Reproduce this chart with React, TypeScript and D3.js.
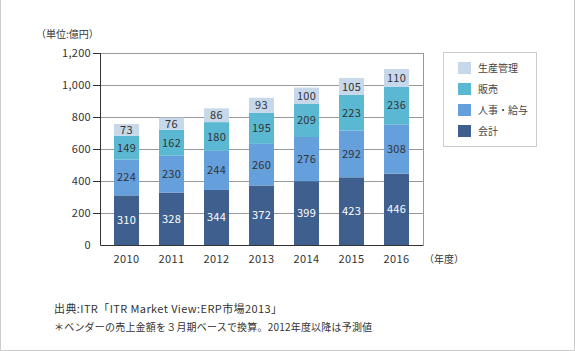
import React, { useEffect, useRef } from 'react';
import * as d3 from 'd3';

// data
const years = ['2010', '2011', '2012', '2013', '2014', '2015', '2016'];
const kaikei = [310, 328, 344, 372, 399, 423, 446];
const jinji = [224, 230, 244, 260, 276, 292, 308];
const hanbai = [149, 162, 180, 195, 209, 223, 236];
const seisan = [73, 76, 86, 93, 100, 105, 110];
const seriesNames = ['会計', '人事・給与', '販売', '生産管理'];
const seriesColors = ['#3f5f8e', '#659fdc', '#5bb8d2', '#c7d8ea'];
const labelColors = ['#ffffff', '#333333', '#333333', '#333333'];
const yTicks = [0, 200, 400, 600, 800, 1000, 1200];

const W = 575;
const H = 351;
const FONT = '"Noto Sans CJK JP", "Noto Sans", sans-serif';

const App = () => {
  const anchor = useRef<SVGSVGElement>(null);

  useEffect(() => {
    const svg = d3.select(anchor.current);
    svg.selectAll('*').remove();

    // outer frame (left, right, bottom)
    svg.append('path')
      .attr('d', `M0.5,0 V${H - 0.5} H${W - 0.5} V0`)
      .attr('fill', 'none')
      .attr('stroke', '#cccccc');

    const x = d3.scaleBand().domain(years).range([100, 423]).paddingInner(0.444).paddingOuter(0.311);
    const y = d3.scaleLinear().domain([0, 1200]).range([245, 53]);

    // gridlines
    svg.append('g').selectAll('line').data(yTicks.filter(d => d > 0)).enter().append('line')
      .attr('x1', 100).attr('x2', 423)
      .attr('y1', d => Math.round(y(d)) + 0.5).attr('y2', d => Math.round(y(d)) + 0.5)
      .attr('stroke', '#999999');
    svg.append('line')
      .attr('x1', 423.5).attr('x2', 423.5).attr('y1', y(1200)).attr('y2', 245)
      .attr('stroke', '#999999');

    // stacked bars
    const table = years.map((yr, i) => ({ year: yr, s0: kaikei[i], s1: jinji[i], s2: hanbai[i], s3: seisan[i] }));
    const stack = d3.stack<any>().keys(['s0', 's1', 's2', 's3'])(table);

    stack.forEach((layer, li) => {
      const g = svg.append('g');
      g.selectAll('rect').data(layer).enter().append('rect')
        .attr('x', d => x(d.data.year) as number)
        .attr('width', x.bandwidth())
        .attr('y', d => y(d[1]))
        .attr('height', d => y(d[0]) - y(d[1]))
        .attr('fill', seriesColors[li]);
      g.selectAll('text').data(layer).enter().append('text')
        .attr('x', d => (x(d.data.year) as number) + x.bandwidth() / 2)
        .attr('y', d => (y(d[0]) + y(d[1])) / 2 + 4)
        .attr('text-anchor', 'middle')
        .attr('font-size', 11)
        .attr('letter-spacing', 0.3)
        .attr('font-family', FONT)
        .attr('fill', labelColors[li])
        .text(d => d[1] - d[0]);
    });

    // axes
    svg.append('path')
      .attr('d', 'M100.5,53 V245.5 H423.5')
      .attr('fill', 'none')
      .attr('stroke', '#333333');
    svg.append('g').selectAll('line').data(yTicks.filter(d => d > 0)).enter().append('line')
      .attr('x1', 93).attr('x2', 100)
      .attr('y1', d => Math.round(y(d)) + 0.5).attr('y2', d => Math.round(y(d)) + 0.5)
      .attr('stroke', '#333333');
    svg.append('g').selectAll('text').data(yTicks).enter().append('text')
      .attr('x', 91)
      .attr('y', d => y(d) + 4)
      .attr('text-anchor', 'end')
      .attr('font-size', 11)
      .attr('letter-spacing', 0.3)
      .attr('font-family', FONT)
      .attr('fill', '#333')
      .text(d => d3.format(',')(d));
    svg.append('g').selectAll('text').data(years).enter().append('text')
      .attr('x', d => (x(d) as number) + x.bandwidth() / 2)
      .attr('y', 263)
      .attr('text-anchor', 'middle')
      .attr('font-size', 11)
      .attr('letter-spacing', 0.4)
      .attr('font-family', FONT)
      .attr('fill', '#333')
      .text(d => d);

    svg.append('text').attr('x', 424).attr('y', 263)
      .attr('font-size', 10).attr('font-family', FONT).attr('fill', '#333')
      .text('（年度）');
    svg.append('text').attr('x', 36).attr('y', 38)
      .attr('font-size', 10).attr('font-family', FONT).attr('fill', '#333')
      .text('（単位:億円）');

    // legend
    svg.append('rect')
      .attr('x', 443.5).attr('y', 52.5).attr('width', 93).attr('height', 94)
      .attr('fill', 'white').attr('stroke', '#cccccc');
    const order = [3, 2, 1, 0];
    order.forEach((si, i) => {
      svg.append('rect')
        .attr('x', 458).attr('y', 62 + i * 21).attr('width', 13).attr('height', 12)
        .attr('fill', seriesColors[si]);
      svg.append('text')
        .attr('x', 478).attr('y', 72 + i * 21)
        .attr('font-size', 10).attr('font-family', FONT).attr('fill', '#444')
        .text(seriesNames[si]);
    });

    // footnotes
    svg.append('text').attr('x', 54).attr('y', 313)
      .attr('font-size', 11).attr('letter-spacing', 0.4).attr('font-family', FONT).attr('fill', '#333')
      .text('出典:ITR「ITR Market View:ERP市場2013」');
    svg.append('text').attr('x', 54).attr('y', 331)
      .attr('font-size', 10).attr('letter-spacing', 0.2).attr('font-family', FONT).attr('fill', '#333')
      .text('＊ベンダーの売上金額を３月期ベースで換算。2012年度以降は予測値');
  }, []);

  return <svg ref={anchor} width={W} height={H} style={{ position: 'absolute', left: 0, top: 0, background: 'white' }} />;
};

export default App;
